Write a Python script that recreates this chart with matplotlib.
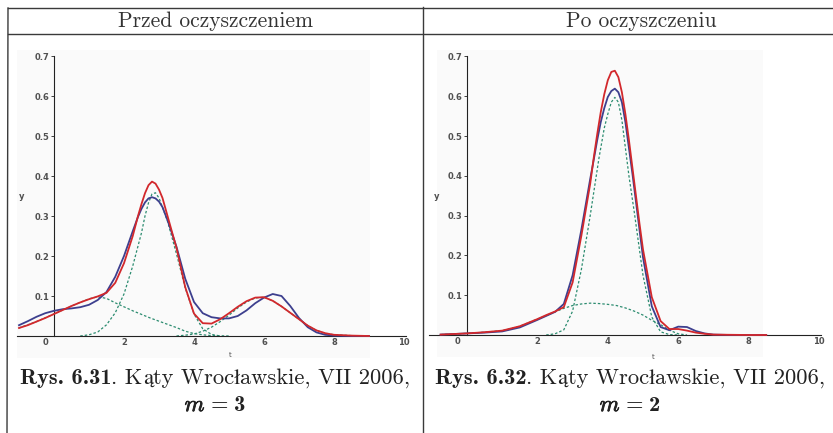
import matplotlib.pyplot as plt
from matplotlib.lines import Line2D
from matplotlib.patches import Rectangle
from matplotlib.transforms import ScaledTranslation
import matplotlib.patheffects as pe

W, H = 833, 433

# --- Rys. 6.31, m = 3 (przed oczyszczeniem) ---
x_l = [-1.0, -0.75, -0.5, -0.25, 0.0, 0.25, 0.5, 0.75, 1.0, 1.25, 1.5, 1.75, 2.0, 2.25,
       2.4, 2.5, 2.6, 2.7, 2.8, 2.9, 3.0, 3.1, 3.25, 3.5, 3.75, 4.0, 4.25, 4.5, 4.75, 5.0,
       5.25, 5.5, 5.75, 6.0, 6.25, 6.5, 6.75, 7.0, 7.25, 7.5, 7.75, 8.0, 8.5, 9.0]
emp_l = [0.027, 0.037, 0.048, 0.057, 0.063, 0.067, 0.069, 0.072, 0.078, 0.090, 0.110, 0.148,
         0.200, 0.262, 0.298, 0.318, 0.334, 0.344, 0.347, 0.344, 0.336, 0.322, 0.288, 0.223,
         0.143, 0.085, 0.057, 0.047, 0.044, 0.044, 0.050, 0.064, 0.082, 0.096, 0.105, 0.100,
         0.075, 0.045, 0.022, 0.009, 0.003, 0.001, 0.0, 0.0]
fit_l = [0.020, 0.027, 0.036, 0.045, 0.055, 0.065, 0.075, 0.084, 0.092, 0.099, 0.108, 0.133,
         0.182, 0.250, 0.300, 0.330, 0.357, 0.377, 0.386, 0.381, 0.366, 0.345, 0.298, 0.220,
         0.122, 0.056, 0.032, 0.031, 0.042, 0.057, 0.073, 0.087, 0.096, 0.097, 0.088, 0.074,
         0.058, 0.042, 0.026, 0.014, 0.007, 0.003, 0.001, 0.0]
c1_x_l = [-1.0, -0.5, 0.0, 0.5, 0.75, 1.0, 1.25, 1.5, 1.75, 2.0, 2.25, 2.5, 2.75, 3.0,
          3.25, 3.5, 3.75, 4.0, 4.25, 4.5, 5.0]
c1_l = [0.020, 0.036, 0.055, 0.075, 0.084, 0.093, 0.098, 0.094, 0.083, 0.073, 0.063, 0.054,
        0.045, 0.037, 0.029, 0.021, 0.012, 0.006, 0.003, 0.001, 0.0]
c2_x_l = [0.75, 1.0, 1.25, 1.5, 1.75, 2.0, 2.25, 2.5, 2.6, 2.7, 2.8, 2.9, 3.0, 3.1, 3.25,
          3.5, 3.75, 4.0, 4.25, 4.5, 4.75]
c2_l = [0.0, 0.003, 0.010, 0.028, 0.058, 0.105, 0.175, 0.258, 0.300, 0.333, 0.355, 0.358,
        0.345, 0.322, 0.285, 0.205, 0.120, 0.055, 0.018, 0.004, 0.0]
c3_x_l = [3.5, 3.75, 4.0, 4.25, 4.5, 4.75, 5.0, 5.25, 5.5, 5.75, 6.0, 6.25, 6.5, 6.75,
          7.0, 7.25, 7.5, 7.75, 8.0, 8.5, 9.0]
c3_l = [0.0, 0.002, 0.005, 0.012, 0.022, 0.036, 0.052, 0.070, 0.085, 0.095, 0.097, 0.088,
        0.074, 0.058, 0.042, 0.026, 0.014, 0.007, 0.003, 0.001, 0.0]

# --- Rys. 6.32, m = 2 (po oczyszczeniu) ---
x_r = [-0.75, -0.5, 0.0, 0.5, 1.0, 1.5, 2.0, 2.25, 2.5, 2.75, 3.0, 3.25, 3.5, 3.6, 3.7,
       3.8, 3.9, 4.0, 4.1, 4.2, 4.3, 4.4, 4.5, 4.6, 4.7, 4.8, 4.9, 5.0, 5.25, 5.5, 5.75,
       6.0, 6.25, 6.5, 6.75, 7.0, 7.5, 8.0, 8.5]
emp_r = [0.001, 0.002, 0.004, 0.006, 0.009, 0.019, 0.038, 0.048, 0.058, 0.078, 0.150, 0.265,
         0.392, 0.440, 0.490, 0.535, 0.570, 0.598, 0.613, 0.619, 0.610, 0.585, 0.535, 0.470,
         0.405, 0.335, 0.265, 0.195, 0.072, 0.020, 0.012, 0.021, 0.020, 0.010, 0.004, 0.001,
         0.0, 0.0, 0.0]
fit_r = [0.001, 0.002, 0.004, 0.007, 0.011, 0.022, 0.040, 0.050, 0.059, 0.070, 0.132, 0.250,
         0.380, 0.445, 0.505, 0.560, 0.605, 0.640, 0.661, 0.664, 0.648, 0.610, 0.555, 0.490,
         0.420, 0.350, 0.280, 0.215, 0.095, 0.035, 0.015, 0.015, 0.011, 0.006, 0.003, 0.001,
         0.0005, 0.0, 0.0]
c1_x_r = [-0.75, 0.0, 0.5, 1.0, 1.5, 2.0, 2.5, 2.75, 3.0, 3.25, 3.5, 3.75, 4.0, 4.25, 4.5,
          4.75, 5.0, 5.25, 5.5, 5.75, 6.0, 6.25]
c1_r = [0.001, 0.004, 0.007, 0.011, 0.022, 0.040, 0.058, 0.067, 0.074, 0.078, 0.080, 0.079,
        0.077, 0.074, 0.068, 0.060, 0.050, 0.037, 0.026, 0.012, 0.003, 0.0]
c2_x_r = [2.25, 2.5, 2.75, 3.0, 3.25, 3.5, 3.75, 3.9, 4.0, 4.1, 4.2, 4.3, 4.4, 4.5, 4.6,
          4.75, 5.0, 5.25, 5.5, 5.75, 6.0]
c2_r = [0.0, 0.003, 0.013, 0.060, 0.165, 0.300, 0.445, 0.520, 0.555, 0.585, 0.597, 0.585,
        0.540, 0.470, 0.400, 0.310, 0.150, 0.045, 0.008, 0.001, 0.0]

RED = '#d2282c'
BLUE = '#3d3f8e'
GREEN = '#2c8c70'
TICK = '#505050'
INK = '#222222'

fig = plt.figure(figsize=(W / 100, H / 100), dpi=100)


def fx(px):
    return px / W


def fy(py):
    return 1 - py / H


def panel(x0, y0, xs, ys, curves, comps, shade, ylab, tlab):
    # data (0, 0) lands on pixel (x0, y0); xs, ys = pixels per unit
    xlim = (-1.2, 10.4)
    ylim = (-0.06, 0.72)
    left = x0 + xlim[0] * xs
    right = x0 + xlim[1] * xs
    top = y0 - ylim[1] * ys
    bottom = y0 - ylim[0] * ys
    ax = fig.add_axes([fx(left), fy(bottom), fx(right - left), (bottom - top) / H])
    ax.set_xlim(xlim)
    ax.set_ylim(ylim)
    ax.patch.set_alpha(0)
    ax.add_patch(Rectangle((shade[0], -0.055), shade[1] - shade[0], 0.77,
                           facecolor='#fafafa', edgecolor='none', zorder=0))

    for cx, cy in comps:
        ax.plot(cx, cy, color=GREEN, lw=0.9, ls=(0, (2, 1.6)), zorder=2)
    for cx, cy, col in curves:
        ax.plot(cx, cy, color=col, lw=1.3, zorder=3)

    for s in ['top', 'right']:
        ax.spines[s].set_visible(False)
    ax.spines['left'].set_position(('data', 0))
    ax.spines['bottom'].set_position(('data', 0))
    ax.spines['left'].set_bounds(0, 0.7)
    ax.spines['bottom'].set_bounds(-1.07, 10.05)
    for s in ['left', 'bottom']:
        ax.spines[s].set_linewidth(0.8)
        ax.spines[s].set_color(INK)

    ax.set_yticks([0.1, 0.2, 0.3, 0.4, 0.5, 0.6, 0.7])
    ax.set_yticklabels(['0.1', '0.2', '0.3', '0.4', '0.5', '0.6', '0.7'])
    ax.set_xticks([0, 2, 4, 6, 8, 10])
    ax.set_xticklabels(['0', '2', '4', '6', '8', '10'])
    ax.tick_params(axis='y', length=2, width=0.6, pad=1.5, labelsize=6, labelcolor=TICK,
                   color=INK)
    ax.tick_params(axis='x', length=0, pad=1.5, labelsize=6, labelcolor=TICK)
    for lab in ax.get_yticklabels() + ax.get_xticklabels():
        lab.set_fontweight('bold')
    zero = ax.get_xticklabels()[0]
    zero.set_transform(zero.get_transform() + ScaledTranslation(-0.09, 0, fig.dpi_scale_trans))

    ax.text(ylab[0], ylab[1], 'y', fontsize=6, color=TICK, fontweight='bold',
            ha='center', va='center')
    ax.text(tlab[0], tlab[1], 't', fontsize=5, color=TICK, ha='center', va='center')
    return ax


panel(54, 336, 35.0, 400.0,
      [(x_l, emp_l, BLUE), (x_l, fit_l, RED)],
      [(c1_x_l, c1_l), (c2_x_l, c2_l), (c3_x_l, c3_l)],
      (-1.07, 9.03), (-0.92, 0.348), (5.03, -0.047))

panel(467, 335, 35.2, 398.0,
      [(x_r, emp_r, BLUE), (x_r, fit_r, RED)],
      [(c1_x_r, c1_r), (c2_x_r, c2_r)],
      (-0.85, 8.4), (-0.86, 0.349), (5.28, -0.055))

# table frame around the two figures
frame = dict(color='#3a3a3a', lw=1.0)
fig.add_artist(Line2D([fx(8), 1], [fy(8), fy(8)], **frame))
fig.add_artist(Line2D([fx(8), 1], [fy(34), fy(34)], **frame))
fig.add_artist(Line2D([fx(8), fx(7)], [fy(8), 0], **frame))
fig.add_artist(Line2D([fx(423), fx(423)], [fy(7), 0], **frame))

fig.text(fx(216), fy(27), 'Przed oczyszczeniem', family='cmr10', fontsize=15.5,
         ha='center', va='baseline', color='#333333')
fig.text(fx(641), fy(27), 'Po oczyszczeniu', family='cmr10', fontsize=15.5,
         ha='center', va='baseline', color='#333333')

renderer = fig.canvas.get_renderer()


def rich(xc, yb, parts, size):
    # draw text pieces in different fonts side by side, centred on xc, baseline yb
    items = []
    total = 0.0
    for s, fam, gap, bold in parts:
        t = fig.text(0, fy(yb), s, family=fam, fontsize=size, va='baseline', color=INK)
        if bold:
            t.set_path_effects([pe.withStroke(linewidth=0.6, foreground=INK)])
        w = t.get_window_extent(renderer).width
        items.append((t, gap, w))
        total += gap + w
    x = xc - total / 2
    for t, gap, w in items:
        x += gap
        t.set_x(fx(x))
        x += w


CM, CB, CI, ST = 'cmr10', 'cmb10', 'cmmi10', 'STIXGeneral'
for xc, num, m in [(215, '6.31', '3'), (630, '6.32', '2')]:
    rich(xc, 384, [('Rys. ' + num, CB, 0, False), ('. K', CM, 0, False),
                   ('ą', ST, 0, False), ('ty Wroc', CM, 0, False), ('ł', ST, 0, False),
                   ('awskie, VII 2006,', CM, 0, False)], 16.2)
    rich(xc, 411, [('m', CI, 0, True), ('=', CB, 6, False), (m, CB, 6, False)], 16.2)

fig.savefig('out.png', dpi=100, facecolor='white')
